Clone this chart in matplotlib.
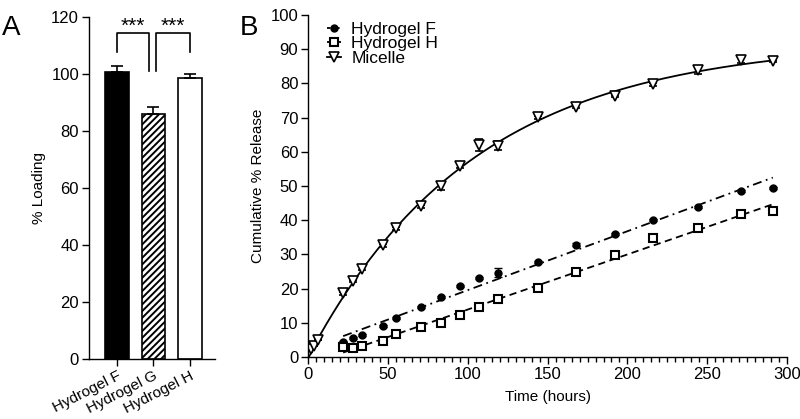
import numpy as np
import matplotlib
matplotlib.use('Agg')
import matplotlib.pyplot as plt

plt.rcParams['font.family'] = ['Liberation Sans', 'DejaVu Sans']
plt.rcParams['font.size'] = 12
plt.rcParams['hatch.linewidth'] = 1.4
plt.rcParams['axes.linewidth'] = 1.0

# Panel A: drug loading
gels = ['Hydrogel F', 'Hydrogel G', 'Hydrogel H']
loading = [100.8, 86.1, 98.6]
loading_err = [2.0, 2.2, 1.5]

# Panel B: cumulative release
t_micelle = [0.5, 2, 4, 6, 22, 28, 34, 47, 55, 71, 83, 95, 107, 119,
             144, 168, 192, 216, 244, 271, 291]
micelle = [1.5, 2.3, 3.3, 5.0, 18.6, 22.2, 25.8, 32.7, 37.6, 44.1, 50.0,
           55.9, 62.1, 61.8, 70.1, 73.2, 76.3, 79.8, 83.8, 86.8, 86.6]
micelle_err = [0, 0, 0, 0, 0.4, 0.4, 0.4, 0.4, 0.4, 0.4, 1.2, 0.6, 1.8,
               1.3, 0.4, 0.4, 0.4, 0.4, 1.0, 0.8, 0.4]

t_gel = [22, 28, 34, 47, 55, 71, 83, 95, 107, 119, 144, 168, 192, 216,
         244, 271, 291]
gel_f = [4.5, 5.6, 6.4, 9.1, 11.3, 14.7, 17.5, 20.8, 23.1, 24.6, 27.8,
         32.9, 36.0, 40.1, 43.8, 48.6, 49.5]
gel_f_err = [0.3, 0.3, 0.3, 0.3, 0.3, 0.3, 0.3, 0.3, 0.3, 1.3, 0.3, 0.3,
             0.3, 0.3, 0.3, 0.3, 0.3]
gel_h = [3.0, 2.5, 3.3, 4.7, 6.6, 8.7, 10.0, 12.3, 14.5, 16.9, 20.3,
         24.9, 29.8, 34.8, 37.7, 41.7, 42.7]
gel_h_err = [0.8, 0.3, 0.3, 0.3, 0.3, 0.3, 0.3, 0.3, 0.3, 0.3, 0.3, 0.3,
             0.3, 0.3, 0.3, 0.3, 0.3]

fig = plt.figure(figsize=(8, 4.19), dpi=100)

# ---------------- A ----------------
axA = fig.add_axes([0.111, 0.143, 0.158, 0.816])
x = np.arange(len(gels))
axA.bar(x, loading, width=0.65, color=['black', 'white', 'white'],
        edgecolor='black', linewidth=1.2, hatch=['', '/////', ''],
        yerr=[[0, 0, 0], loading_err], capsize=4.5,
        error_kw=dict(elinewidth=1.2, capthick=1.2))
axA.set_xlim(-0.77, 2.69)
axA.set_ylim(0, 120)
axA.set_yticks(range(0, 121, 20))
axA.set_xticks(x)
axA.set_xticklabels(gels, rotation=27, ha='right', rotation_mode='anchor',
                    fontsize=11)
axA.set_ylabel('% Loading', fontsize=11, labelpad=4)
axA.spines[['top', 'right']].set_visible(False)
axA.tick_params(direction='out', length=5, width=1.0, pad=2)

# significance brackets
def bracket(ax, x0, x1, y_top, y0, y1):
    ax.plot([x0, x0, x1, x1], [y0, y_top, y_top, y1], color='black',
            lw=1.2, clip_on=False)
    ax.text((x0 + x1) / 2, y_top + 2.6, '***', ha='center', va='center',
            fontsize=15, clip_on=False)

bracket(axA, 0, 0.87, 114.3, 107.8, 101.0)
bracket(axA, 1.08, 2, 114.3, 101.0, 107.8)

fig.text(0.002, 0.965, 'A', fontsize=20, va='top', ha='left')

# ---------------- B ----------------
axB = fig.add_axes([0.385, 0.148, 0.599, 0.816])

# one-phase association fit for micelle (grid search on k, LS for Ymax)
tm = np.array(t_micelle, dtype=float)
ym = np.array(micelle)
best = None
for k in np.linspace(0.001, 0.05, 2000):
    g = 1 - np.exp(-k * tm)
    ymax = np.dot(g, ym) / np.dot(g, g)
    sse = np.sum((ym - ymax * g) ** 2)
    if best is None or sse < best[0]:
        best = (sse, k, ymax)
_, k_fit, ymax_fit = best
tt = np.linspace(0, max(t_micelle), 300)
axB.plot(tt, ymax_fit * (1 - np.exp(-k_fit * tt)), color='black', lw=1.3)

# linear fits for hydrogels
tg = np.array(t_gel, dtype=float)
pf = np.polyfit(tg, gel_f, 1)
ph = np.polyfit(tg, gel_h, 1)
tl = np.array([min(t_gel), max(t_gel)])
axB.plot(tl, np.polyval(pf, tl), color='black', lw=1.3,
         linestyle=(0, (5, 2.5, 1, 2.5)))
axB.plot(tl, np.polyval(ph, tl), color='black', lw=1.3,
         linestyle=(0, (4, 2.5)))

ekw = dict(ecolor='black', elinewidth=1.0, capsize=3, capthick=1.0, ls='none')
axB.errorbar(t_gel, gel_f, yerr=gel_f_err, marker='o', ms=5,
             mfc='black', mec='black', **ekw)
axB.errorbar(t_gel, gel_h, yerr=gel_h_err, marker='s', ms=6,
             mfc='white', mec='black', mew=1.5, **ekw)
axB.errorbar(t_micelle, micelle, yerr=micelle_err, marker='v', ms=6.5,
             mfc='white', mec='black', mew=1.2, **ekw)

# legend proxies
hF, = axB.plot([], [], color='black', lw=1.3, linestyle=(0, (2, 1, 1, 1)),
               marker='o', ms=5, mfc='black')
hH, = axB.plot([], [], color='black', lw=1.3, linestyle=(0, (2, 1)),
               marker='s', ms=6, mfc='white', mew=1.5)
hM, = axB.plot([], [], color='black', lw=1.3, marker='v', ms=6.5,
               mfc='white', mew=1.2)
axB.legend([hF, hH, hM], ['Hydrogel F', 'Hydrogel H', 'Micelle'],
           loc='upper left', bbox_to_anchor=(0.025, 1.0), frameon=False,
           fontsize=12.5, handlelength=0.8, handletextpad=0.6,
           labelspacing=-0.05, borderaxespad=0)

axB.set_xlim(0, 300)
axB.set_ylim(0, 100)
axB.set_xticks(range(0, 301, 50))
axB.set_xticks(range(0, 301, 5), minor=True)
axB.set_yticks(range(0, 101, 10))
axB.set_xlabel('Time (hours)', fontsize=11, labelpad=6)
axB.set_ylabel('Cumulative % Release', fontsize=11, labelpad=4)
axB.spines[['top', 'right']].set_visible(False)
axB.tick_params(direction='out', length=5, width=1.0, pad=2)
axB.tick_params(which='minor', direction='out', length=3.5, width=1.0)

fig.text(0.30, 0.965, 'B', fontsize=20, va='top', ha='left')

fig.savefig('out.png', dpi=100)
